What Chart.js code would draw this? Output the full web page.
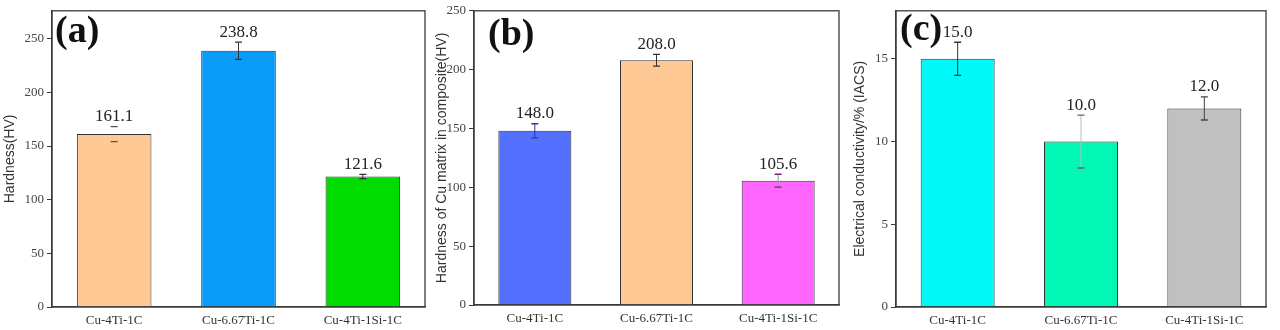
<!DOCTYPE html>
<html>
<head>
<meta charset="utf-8">
<script src="https://cdn.jsdelivr.net/npm/chart.js@4"></script>
<style>
  body { margin: 0; background: #fff; width: 1280px; height: 330px; overflow: hidden; }
  .panel { position: absolute; top: 0; height: 330px; }
</style>
</head>
<body>
<div class="panel" id="pa" style="left:0;width:432px"><canvas id="chartA"></canvas></div>
<div class="panel" id="pb" style="left:432px;width:418px"><canvas id="chartB"></canvas></div>
<div class="panel" id="pc" style="left:850px;width:430px"><canvas id="chartC"></canvas></div>
<script>
// alloys
const categories = ['Cu-4Ti-1C', 'Cu-6.67Ti-1C', 'Cu-4Ti-1Si-1C'];

// (a) hardness of composite
const hardness = [161.1, 238.8, 121.6];
const hardnessErr = [7, 8, 2];
// (b) hardness of Cu matrix
const matrixHardness = [148.0, 208.0, 105.6];
const matrixErr = [6, 5, 5.5];
// (c) electrical conductivity
const conductivity = [15.0, 10.0, 12.0];
const conductivityErr = [1.0, 1.6, 0.7];

const serif = '"Liberation Serif", "Times New Roman", serif';
const sans = '"Liberation Sans", Arial, sans-serif';

// box around the plot area
const framePlugin = {
  id: 'frame',
  afterDraw(chart) {
    const a = chart.chartArea, ctx = chart.ctx;
    ctx.save();
    ctx.strokeStyle = '#3a3a3a';
    ctx.lineWidth = 1.3;
    ctx.strokeRect(a.left, a.top, a.right - a.left, a.bottom - a.top);
    ctx.restore();
  }
};

// error bars + value labels + panel letter
const errorPlugin = {
  id: 'errbars',
  afterDatasetsDraw(chart, args, opts) {
    const ctx = chart.ctx, y = chart.scales.y;
    const ds = chart.data.datasets[0];
    const meta = chart.getDatasetMeta(0);
    ctx.save();
    meta.data.forEach((bar, i) => {
      const v = ds.data[i], e = opts.err[i];
      const yt = y.getPixelForValue(v + e), yb = y.getPixelForValue(v - e);
      ctx.strokeStyle = opts.lineColors[i];
      ctx.lineWidth = 1;
      ctx.beginPath();
      ctx.moveTo(bar.x, yt); ctx.lineTo(bar.x, yb);
      ctx.stroke();
      ctx.strokeStyle = opts.capColors[i];
      ctx.lineWidth = 1.3;
      ctx.beginPath();
      ctx.moveTo(bar.x - 3.5, yt); ctx.lineTo(bar.x + 3.5, yt);
      ctx.moveTo(bar.x - 3.5, yb); ctx.lineTo(bar.x + 3.5, yb);
      ctx.stroke();
      ctx.fillStyle = '#222';
      ctx.font = '17px ' + serif;
      ctx.textAlign = 'center';
      ctx.textBaseline = 'middle';
      ctx.fillText(v.toFixed(1), bar.x, yt - 10);
    });
    const a = chart.chartArea;
    ctx.fillStyle = '#111';
    ctx.font = 'bold 38px ' + serif;
    ctx.textAlign = 'left';
    ctx.textBaseline = 'middle';
    ctx.fillText(opts.letter, a.left + opts.letterDx, a.top + opts.letterDy);
    ctx.restore();
  }
};

function makeChart(id, values, err, colors, o) {
  return new Chart(document.getElementById(id), {
    type: 'bar',
    data: {
      labels: categories,
      datasets: [{
        data: values,
        backgroundColor: colors,
        borderColor: '#333',
        borderWidth: 1,
        categoryPercentage: 0.6,
        barPercentage: 1
      }]
    },
    options: {
      responsive: true,
      maintainAspectRatio: false,
      animation: false,
      layout: { padding: { top: o.top, right: o.right, left: 0, bottom: 0 } },
      plugins: {
        legend: { display: false },
        tooltip: { enabled: false },
        errbars: { err: err, lineColors: o.lineColors, capColors: o.capColors,
                   letter: o.letter, letterDx: o.letterDx, letterDy: o.letterDy }
      },
      scales: {
        x: {
          grid: { display: false, tickLength: 0 },
          border: { color: '#3a3a3a', width: 1.3 },
          ticks: { color: '#333', font: { family: serif, size: 13 }, padding: 6, maxRotation: 0 },
          afterFit(s) { s.height = o.xh; }
        },
        y: {
          min: 0, max: o.max,
          grid: { drawOnChartArea: false, drawTicks: true, tickLength: 5, color: '#3a3a3a' },
          border: { color: '#3a3a3a', width: 1.3 },
          ticks: { stepSize: o.step, includeBounds: false, color: '#444',
                   font: { family: serif, size: 13 }, padding: 3 },
          title: { display: true, text: o.title, color: '#333',
                   font: { family: sans, size: 14 }, padding: { top: 2, bottom: 0 } },
          afterFit(s) { s.width = o.yw; }
        }
      }
    },
    plugins: [framePlugin, errorPlugin]
  });
}

makeChart('chartA', hardness, hardnessErr, ['#FFC996', '#0A9BF8', '#00DC00'], {
  max: 276, step: 50, title: 'Hardness(HV)', yw: 52, xh: 23, top: 7, right: 7,
  lineColors: ['rgba(0,0,0,0)', '#333', '#333'], capColors: ['#555', '#333', '#333'],
  letter: '(a)', letterDx: 3, letterDy: 21
});

makeChart('chartB', matrixHardness, matrixErr, ['#5470FF', '#FFC996', '#FF66FF'], {
  max: 250, step: 50, title: 'Hardness of Cu matrix in composite(HV)', yw: 42, xh: 25, top: 9, right: 11,
  lineColors: ['#2a3a99', '#333', '#999'], capColors: ['#2a3a99', '#333', '#7a207a'],
  letter: '(b)', letterDx: 14, letterDy: 24
});

makeChart('chartC', conductivity, conductivityErr, ['#00F8F8', '#00F8B4', '#C0C0C0'], {
  max: 17.9, step: 5, title: 'Electrical conductivity/% (IACS)', yw: 46, xh: 23, top: 4, right: 14,
  lineColors: ['#333', '#bbb', '#444'], capColors: ['#333', '#666', '#444'],
  letter: '(c)', letterDx: 4, letterDy: 19
});
</script>
</body>
</html>
